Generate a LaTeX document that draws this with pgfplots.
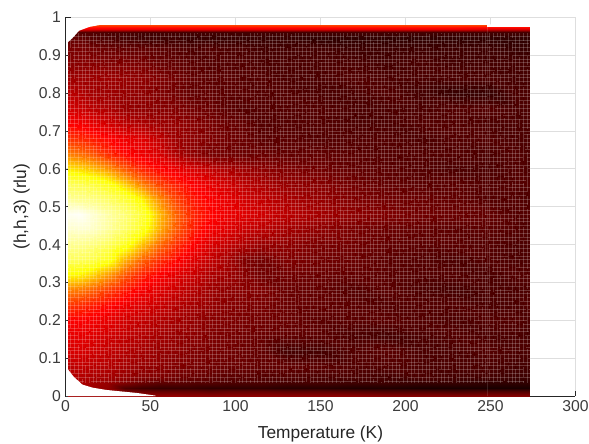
\documentclass[border=0pt]{standalone}
\usepackage{pgfplots}
\usepackage{fontspec}
\setmainfont{Liberation Sans}
\pgfplotsset{compat=1.18}
\definecolor{axgray}{RGB}{38,38,38}
\definecolor{grd}{RGB}{222,222,222}
\begin{document}
\begin{tikzpicture}[x=1pt,y=1pt]
\path[use as bounding box] (-49.1pt,-35.25pt) rectangle (392.65pt,297pt);
\begin{axis}[
  at={(0pt,0pt)},anchor=south west,
  scale only axis,width=382.5pt,height=283.9pt,
  xmin=0,xmax=300,ymin=0,ymax=1,
  axis lines=left,axis line style={-,color=axgray,line width=0.6pt},
  xtick={0,50,100,150,200,250,300},
  ytick={0,0.1,0.2,0.3,0.4,0.5,0.6,0.7,0.8,0.9,1},
  yticklabels={0,0.1,0.2,0.3,0.4,0.5,0.6,0.7,0.8,0.9,1},
  scaled ticks=false,
  tick align=inside,tick style={color=axgray,line width=0.5pt},major tick length=3.8pt,
  grid=major,grid style={color=grd,line width=0.6pt},
  /pgf/number format/assume math mode=true,
  tick label style={font=\fontsize{11.8}{13}\selectfont,color=axgray!90},
  xlabel={Temperature (K)},ylabel={(h,h,3) (rlu)},
  label style={font=\fontsize{13}{15}\selectfont,color=axgray},
  xlabel style={yshift=-4pt},ylabel style={yshift=0pt},
  colormap={hot}{rgb=(0.04,0,0) rgb=(1,0,0) rgb=(1,1,0) rgb=(1,1,1)},
  point meta min=0,point meta max=1,
  clip=true
]
\addplot[surf,shader=interp,mesh/cols=22,mesh/ordering=x varies,point meta=explicit] table[meta index=2,row sep=\\] {
x y c\\
1.5 0 .2\\ 8 0 .2\\ 15 0 .2\\ 25 0 .2\\ 35 0 .2\\ 45 0 .2\\ 55 0 .19\\ 65 0 .19\\ 75 0 .18\\ 85 0 .18\\ 95 0 .18\\ 105 0 .18\\ 115 0 .18\\ 130 0 .18\\ 150 0 .18\\ 170 0 .18\\ 190 0 .17\\ 210 0 .17\\ 230 0 .17\\ 250 0 .17\\ 265 0 .17\\ 273 0 .17\\
1.5 .012 .2\\ 8 .012 .2\\ 15 .012 .2\\ 25 .012 .19\\ 35 .012 .15\\ 45 .012 .13\\ 55 .012 .12\\ 65 .012 .12\\ 75 .012 .12\\ 85 .012 .11\\ 95 .012 .12\\ 105 .012 .12\\ 115 .012 .12\\ 130 .012 .11\\ 150 .012 .11\\ 170 .012 .1\\ 190 .012 .09\\ 210 .012 .09\\ 230 .012 .08\\ 250 .012 .09\\ 265 .012 .09\\ 273 .012 .09\\
1.5 .022 .22\\ 8 .022 .22\\ 15 .022 .2\\ 25 .022 .18\\ 35 .022 .09\\ 45 .022 .07\\ 55 .022 .06\\ 65 .022 .06\\ 75 .022 .06\\ 85 .022 .05\\ 95 .022 .05\\ 105 .022 .05\\ 115 .022 .05\\ 130 .022 .04\\ 150 .022 .04\\ 170 .022 .03\\ 190 .022 .03\\ 210 .022 .02\\ 230 .022 .02\\ 250 .022 .02\\ 265 .022 .02\\ 273 .022 .02\\
1.5 .035 .22\\ 8 .035 .22\\ 15 .035 .21\\ 25 .035 .19\\ 35 .035 .16\\ 45 .035 .13\\ 55 .035 .11\\ 65 .035 .11\\ 75 .035 .1\\ 85 .035 .1\\ 95 .035 .09\\ 105 .035 .09\\ 115 .035 .09\\ 130 .035 .08\\ 150 .035 .08\\ 170 .035 .07\\ 190 .035 .07\\ 210 .035 .06\\ 230 .035 .06\\ 250 .035 .05\\ 265 .035 .05\\ 273 .035 .05\\
1.5 .05 .23\\ 8 .05 .23\\ 15 .05 .22\\ 25 .05 .21\\ 35 .05 .19\\ 45 .05 .17\\ 55 .05 .16\\ 65 .05 .14\\ 75 .05 .13\\ 85 .05 .12\\ 95 .05 .11\\ 105 .05 .11\\ 115 .05 .1\\ 130 .05 .1\\ 150 .05 .09\\ 170 .05 .09\\ 190 .05 .08\\ 210 .05 .09\\ 230 .05 .08\\ 250 .05 .08\\ 265 .05 .07\\ 273 .05 .07\\
1.5 .08 .24\\ 8 .08 .25\\ 15 .08 .24\\ 25 .08 .23\\ 35 .08 .21\\ 45 .08 .19\\ 55 .08 .18\\ 65 .08 .16\\ 75 .08 .15\\ 85 .08 .14\\ 95 .08 .13\\ 105 .08 .13\\ 115 .08 .12\\ 130 .08 .12\\ 150 .08 .11\\ 170 .08 .1\\ 190 .08 .1\\ 210 .08 .09\\ 230 .08 .09\\ 250 .08 .09\\ 265 .08 .08\\ 273 .08 .08\\
1.5 .12 .28\\ 8 .12 .28\\ 15 .12 .27\\ 25 .12 .25\\ 35 .12 .23\\ 45 .12 .21\\ 55 .12 .19\\ 65 .12 .18\\ 75 .12 .16\\ 85 .12 .15\\ 95 .12 .14\\ 105 .12 .13\\ 115 .12 .12\\ 130 .12 .08\\ 150 .12 .08\\ 170 .12 .1\\ 190 .12 .11\\ 210 .12 .09\\ 230 .12 .09\\ 250 .12 .1\\ 265 .12 .09\\ 273 .12 .09\\
1.5 .16 .3\\ 8 .16 .3\\ 15 .16 .29\\ 25 .16 .27\\ 35 .16 .25\\ 45 .16 .23\\ 55 .16 .21\\ 65 .16 .19\\ 75 .16 .18\\ 85 .16 .16\\ 95 .16 .15\\ 105 .16 .14\\ 115 .16 .13\\ 130 .16 .12\\ 150 .16 .11\\ 170 .16 .09\\ 190 .16 .08\\ 210 .16 .09\\ 230 .16 .1\\ 250 .16 .09\\ 265 .16 .09\\ 273 .16 .08\\
1.5 .2 .33\\ 8 .2 .33\\ 15 .2 .32\\ 25 .2 .3\\ 35 .2 .27\\ 45 .2 .25\\ 55 .2 .23\\ 65 .2 .21\\ 75 .2 .19\\ 85 .2 .17\\ 95 .2 .16\\ 105 .2 .15\\ 115 .2 .14\\ 130 .2 .13\\ 150 .2 .11\\ 170 .2 .11\\ 190 .2 .11\\ 210 .2 .1\\ 230 .2 .09\\ 250 .2 .1\\ 265 .2 .1\\ 273 .2 .09\\
1.5 .24 .4\\ 8 .24 .39\\ 15 .24 .37\\ 25 .24 .34\\ 35 .24 .31\\ 45 .24 .28\\ 55 .24 .26\\ 65 .24 .23\\ 75 .24 .21\\ 85 .24 .19\\ 95 .24 .17\\ 105 .24 .16\\ 115 .24 .15\\ 130 .24 .13\\ 150 .24 .12\\ 170 .24 .11\\ 190 .24 .1\\ 210 .24 .1\\ 230 .24 .1\\ 250 .24 .09\\ 265 .24 .09\\ 273 .24 .1\\
1.5 .28 .5\\ 8 .28 .49\\ 15 .28 .46\\ 25 .28 .41\\ 35 .28 .36\\ 45 .28 .32\\ 55 .28 .29\\ 65 .28 .26\\ 75 .28 .23\\ 85 .28 .2\\ 95 .28 .18\\ 105 .28 .17\\ 115 .28 .16\\ 130 .28 .13\\ 150 .28 .12\\ 170 .28 .1\\ 190 .28 .11\\ 210 .28 .09\\ 230 .28 .08\\ 250 .28 .09\\ 265 .28 .09\\ 273 .28 .09\\
1.5 .32 .66\\ 8 .32 .65\\ 15 .32 .61\\ 25 .32 .53\\ 35 .32 .44\\ 45 .32 .37\\ 55 .32 .33\\ 65 .32 .29\\ 75 .32 .26\\ 85 .32 .22\\ 95 .32 .2\\ 105 .32 .17\\ 115 .32 .14\\ 130 .32 .14\\ 150 .32 .13\\ 170 .32 .12\\ 190 .32 .11\\ 210 .32 .1\\ 230 .32 .1\\ 250 .32 .09\\ 265 .32 .1\\ 273 .32 .1\\
1.5 .36 .78\\ 8 .36 .78\\ 15 .36 .76\\ 25 .36 .7\\ 35 .36 .56\\ 45 .36 .46\\ 55 .36 .39\\ 65 .36 .34\\ 75 .36 .29\\ 85 .36 .25\\ 95 .36 .21\\ 105 .36 .16\\ 115 .36 .14\\ 130 .36 .16\\ 150 .36 .14\\ 170 .36 .13\\ 190 .36 .11\\ 210 .36 .1\\ 230 .36 .09\\ 250 .36 .1\\ 265 .36 .09\\ 273 .36 .09\\
1.5 .4 .85\\ 8 .4 .85\\ 15 .4 .83\\ 25 .4 .78\\ 35 .4 .7\\ 45 .4 .58\\ 55 .4 .47\\ 65 .4 .39\\ 75 .4 .33\\ 85 .4 .28\\ 95 .4 .25\\ 105 .4 .22\\ 115 .4 .19\\ 130 .4 .18\\ 150 .4 .15\\ 170 .4 .14\\ 190 .4 .12\\ 210 .4 .11\\ 230 .4 .11\\ 250 .4 .1\\ 265 .4 .09\\ 273 .4 .09\\
1.5 .44 .93\\ 8 .44 .94\\ 15 .44 .93\\ 25 .44 .87\\ 35 .44 .8\\ 45 .44 .71\\ 55 .44 .56\\ 65 .44 .45\\ 75 .44 .37\\ 85 .44 .32\\ 95 .44 .29\\ 105 .44 .26\\ 115 .44 .24\\ 130 .44 .21\\ 150 .44 .18\\ 170 .44 .15\\ 190 .44 .13\\ 210 .44 .12\\ 230 .44 .11\\ 250 .44 .11\\ 265 .44 .1\\ 273 .44 .09\\
1.5 .48 .98\\ 8 .48 .99\\ 15 .48 .95\\ 25 .48 .88\\ 35 .48 .82\\ 45 .48 .74\\ 55 .48 .58\\ 65 .48 .46\\ 75 .48 .38\\ 85 .48 .34\\ 95 .48 .31\\ 105 .48 .29\\ 115 .48 .27\\ 130 .48 .24\\ 150 .48 .21\\ 170 .48 .18\\ 190 .48 .16\\ 210 .48 .14\\ 230 .48 .13\\ 250 .48 .12\\ 265 .48 .1\\ 273 .48 .1\\
1.5 .52 .86\\ 8 .52 .85\\ 15 .52 .84\\ 25 .52 .8\\ 35 .52 .74\\ 45 .52 .65\\ 55 .52 .52\\ 65 .52 .42\\ 75 .52 .36\\ 85 .52 .33\\ 95 .52 .3\\ 105 .52 .27\\ 115 .52 .25\\ 130 .52 .22\\ 150 .52 .19\\ 170 .52 .16\\ 190 .52 .14\\ 210 .52 .13\\ 230 .52 .12\\ 250 .52 .1\\ 265 .52 .1\\ 273 .52 .09\\
1.5 .56 .78\\ 8 .56 .77\\ 15 .56 .75\\ 25 .56 .7\\ 35 .56 .6\\ 45 .56 .5\\ 55 .56 .42\\ 65 .56 .37\\ 75 .56 .33\\ 85 .56 .3\\ 95 .56 .27\\ 105 .56 .24\\ 115 .56 .22\\ 130 .56 .19\\ 150 .56 .17\\ 170 .56 .14\\ 190 .56 .12\\ 210 .56 .11\\ 230 .56 .11\\ 250 .56 .1\\ 265 .56 .1\\ 273 .56 .1\\
1.5 .6 .64\\ 8 .6 .62\\ 15 .6 .59\\ 25 .6 .53\\ 35 .6 .45\\ 45 .6 .38\\ 55 .6 .34\\ 65 .6 .31\\ 75 .6 .28\\ 85 .6 .25\\ 95 .6 .22\\ 105 .6 .2\\ 115 .6 .18\\ 130 .6 .16\\ 150 .6 .14\\ 170 .6 .12\\ 190 .6 .11\\ 210 .6 .1\\ 230 .6 .09\\ 250 .6 .09\\ 265 .6 .1\\ 273 .6 .09\\
1.5 .64 .5\\ 8 .64 .48\\ 15 .64 .45\\ 25 .64 .39\\ 35 .64 .34\\ 45 .64 .31\\ 55 .64 .28\\ 65 .64 .22\\ 75 .64 .18\\ 85 .64 .15\\ 95 .64 .14\\ 105 .64 .13\\ 115 .64 .13\\ 130 .64 .12\\ 150 .64 .12\\ 170 .64 .11\\ 190 .64 .1\\ 210 .64 .1\\ 230 .64 .1\\ 250 .64 .09\\ 265 .64 .1\\ 273 .64 .09\\
1.5 .68 .4\\ 8 .68 .39\\ 15 .68 .37\\ 25 .68 .34\\ 35 .68 .31\\ 45 .68 .29\\ 55 .68 .25\\ 65 .68 .2\\ 75 .68 .18\\ 85 .68 .16\\ 95 .68 .14\\ 105 .68 .13\\ 115 .68 .11\\ 130 .68 .11\\ 150 .68 .1\\ 170 .68 .1\\ 190 .68 .1\\ 210 .68 .09\\ 230 .68 .1\\ 250 .68 .1\\ 265 .68 .09\\ 273 .68 .09\\
1.5 .72 .33\\ 8 .72 .32\\ 15 .72 .3\\ 25 .72 .27\\ 35 .72 .24\\ 45 .72 .22\\ 55 .72 .2\\ 65 .72 .19\\ 75 .72 .17\\ 85 .72 .15\\ 95 .72 .13\\ 105 .72 .12\\ 115 .72 .1\\ 130 .72 .1\\ 150 .72 .1\\ 170 .72 .09\\ 190 .72 .09\\ 210 .72 .1\\ 230 .72 .1\\ 250 .72 .09\\ 265 .72 .09\\ 273 .72 .09\\
1.5 .76 .27\\ 8 .76 .26\\ 15 .76 .24\\ 25 .76 .22\\ 35 .76 .19\\ 45 .76 .18\\ 55 .76 .17\\ 65 .76 .16\\ 75 .76 .14\\ 85 .76 .13\\ 95 .76 .11\\ 105 .76 .1\\ 115 .76 .1\\ 130 .76 .1\\ 150 .76 .1\\ 170 .76 .09\\ 190 .76 .09\\ 210 .76 .09\\ 230 .76 .1\\ 250 .76 .1\\ 265 .76 .09\\ 273 .76 .09\\
1.5 .8 .24\\ 8 .8 .23\\ 15 .8 .21\\ 25 .8 .2\\ 35 .8 .19\\ 45 .8 .18\\ 55 .8 .16\\ 65 .8 .14\\ 75 .8 .12\\ 85 .8 .12\\ 95 .8 .11\\ 105 .8 .11\\ 115 .8 .1\\ 130 .8 .1\\ 150 .8 .09\\ 170 .8 .09\\ 190 .8 .1\\ 210 .8 .08\\ 230 .8 .06\\ 250 .8 .06\\ 265 .8 .09\\ 273 .8 .09\\
1.5 .84 .2\\ 8 .84 .2\\ 15 .84 .2\\ 25 .84 .2\\ 35 .84 .19\\ 45 .84 .18\\ 55 .84 .16\\ 65 .84 .14\\ 75 .84 .12\\ 85 .84 .11\\ 95 .84 .11\\ 105 .84 .1\\ 115 .84 .1\\ 130 .84 .09\\ 150 .84 .09\\ 170 .84 .1\\ 190 .84 .09\\ 210 .84 .09\\ 230 .84 .09\\ 250 .84 .09\\ 265 .84 .08\\ 273 .84 .08\\
1.5 .88 .17\\ 8 .88 .17\\ 15 .88 .17\\ 25 .88 .16\\ 35 .88 .16\\ 45 .88 .15\\ 55 .88 .13\\ 65 .88 .12\\ 75 .88 .11\\ 85 .88 .1\\ 95 .88 .1\\ 105 .88 .1\\ 115 .88 .09\\ 130 .88 .09\\ 150 .88 .09\\ 170 .88 .09\\ 190 .88 .08\\ 210 .88 .09\\ 230 .88 .08\\ 250 .88 .08\\ 265 .88 .08\\ 273 .88 .08\\
1.5 .92 .15\\ 8 .92 .15\\ 15 .92 .14\\ 25 .92 .13\\ 35 .92 .12\\ 45 .92 .12\\ 55 .92 .11\\ 65 .92 .1\\ 75 .92 .09\\ 85 .92 .1\\ 95 .92 .09\\ 105 .92 .09\\ 115 .92 .08\\ 130 .92 .08\\ 150 .92 .08\\ 170 .92 .07\\ 190 .92 .07\\ 210 .92 .07\\ 230 .92 .07\\ 250 .92 .07\\ 265 .92 .06\\ 273 .92 .06\\
1.5 .945 .12\\ 8 .945 .12\\ 15 .945 .1\\ 25 .945 .09\\ 35 .945 .08\\ 45 .945 .07\\ 55 .945 .07\\ 65 .945 .07\\ 75 .945 .06\\ 85 .945 .06\\ 95 .945 .06\\ 105 .945 .06\\ 115 .945 .06\\ 130 .945 .06\\ 150 .945 .05\\ 170 .945 .05\\ 190 .945 .05\\ 210 .945 .05\\ 230 .945 .05\\ 250 .945 .05\\ 265 .945 .05\\ 273 .945 .05\\
1.5 .962 .1\\ 8 .962 .1\\ 15 .962 .1\\ 25 .962 .09\\ 35 .962 .09\\ 45 .962 .08\\ 55 .962 .08\\ 65 .962 .08\\ 75 .962 .08\\ 85 .962 .08\\ 95 .962 .08\\ 105 .962 .08\\ 115 .962 .08\\ 130 .962 .08\\ 150 .962 .08\\ 170 .962 .08\\ 190 .962 .08\\ 210 .962 .08\\ 230 .962 .08\\ 250 .962 .08\\ 265 .962 .08\\ 273 .962 .08\\
1.5 .97 .3\\ 8 .97 .3\\ 15 .97 .3\\ 25 .97 .3\\ 35 .97 .3\\ 45 .97 .3\\ 55 .97 .3\\ 65 .97 .3\\ 75 .97 .3\\ 85 .97 .3\\ 95 .97 .3\\ 105 .97 .3\\ 115 .97 .3\\ 130 .97 .3\\ 150 .97 .3\\ 170 .97 .3\\ 190 .97 .3\\ 210 .97 .3\\ 230 .97 .3\\ 250 .97 .28\\ 265 .97 .28\\ 273 .97 .28\\
1.5 .98 .42\\ 8 .98 .42\\ 15 .98 .42\\ 25 .98 .42\\ 35 .98 .42\\ 45 .98 .42\\ 55 .98 .42\\ 65 .98 .42\\ 75 .98 .42\\ 85 .98 .42\\ 95 .98 .42\\ 105 .98 .42\\ 115 .98 .42\\ 130 .98 .42\\ 150 .98 .42\\ 170 .98 .42\\ 190 .98 .42\\ 210 .98 .42\\ 230 .98 .42\\ 250 .98 .42\\ 265 .98 .42\\ 273 .98 .42\\
};
% fine mesh of the measurement grid, broken as in the reference
\pgfplotsinvokeforeach{3,5.2,...,272.5}{
  \draw[white,opacity=0.2,line width=0.38pt,dash pattern=on 30pt off 2pt on 11pt off 4pt on 45pt off 3pt on 7pt off 3pt,dash phase=#1*37pt] (axis cs:#1,0.035) -- (axis cs:#1,0.96);
}
\pgfplotsinvokeforeach{0.04,0.05,...,0.955}{
  \draw[white,opacity=0.2,line width=0.38pt,dash pattern=on 34pt off 3pt on 13pt off 5pt on 40pt off 2pt on 9pt off 4pt,dash phase=#1*3700pt] (axis cs:1.5,#1) -- (axis cs:273,#1);
}
% the region's cut corners and the shorter right end of the top strip
\addplot[fill=white,draw=none] coordinates {(0.4,0) (0.4,0.072) (1.5,0.07) (5,0.05) (10,0.03) (16,0.022) (24,0.016) (42,0.008) (53,0.001) (53,0)} \closedcycle;
\addplot[fill=white,draw=none] coordinates {(0.4,0.94) (1.5,0.935) (4,0.945) (8,0.965) (14,0.975) (20,0.98) (20,0.9815) (0.4,0.9815)} \closedcycle;
\addplot[fill=white,draw=none] coordinates {(248,0.975) (273.5,0.975) (273.5,0.9815) (248,0.9815)} \closedcycle;
\end{axis}
\end{tikzpicture}
\end{document}
